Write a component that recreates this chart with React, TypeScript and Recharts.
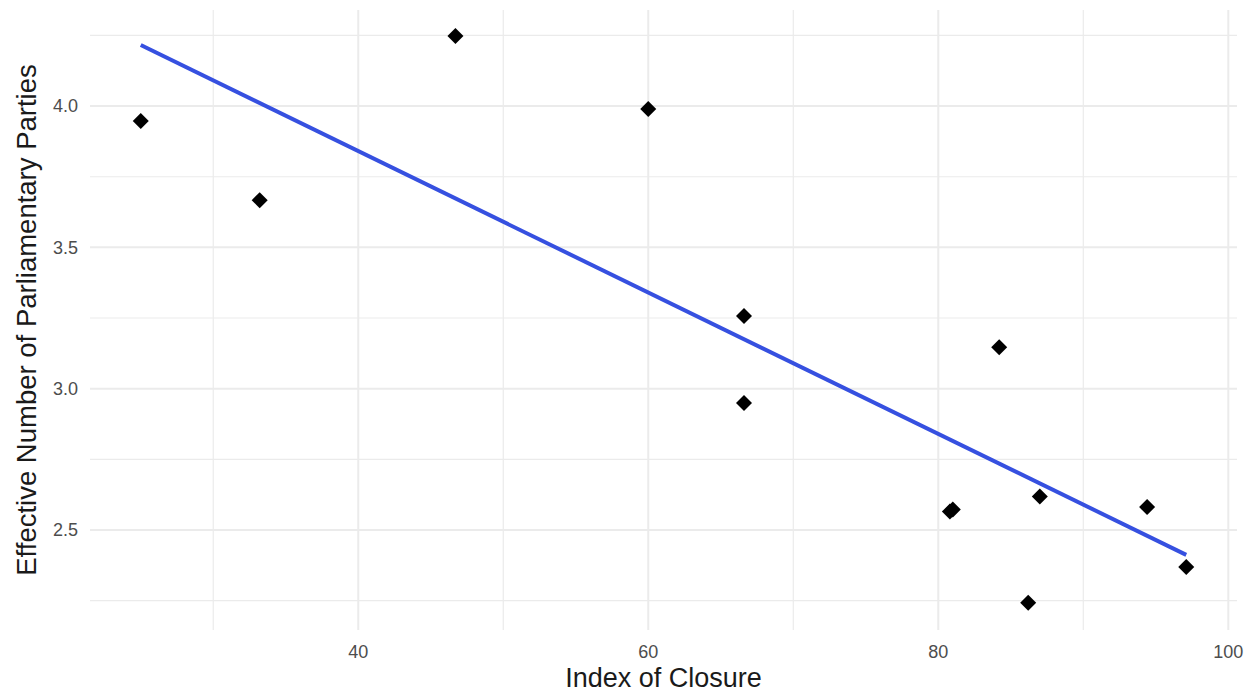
import React from 'react';
import { ScatterChart, Scatter, XAxis, YAxis, ReferenceLine } from 'recharts';

// Index of closure vs. effective number of parliamentary parties
const closure = [25.0, 33.2, 46.7, 60.0, 66.6, 66.6, 84.2, 80.8, 81.0, 87.0, 86.2, 94.4, 97.1];
const enpp = [3.947, 3.667, 4.248, 3.99, 3.257, 2.949, 3.147, 2.565, 2.572, 2.618, 2.242, 2.581, 2.369];

// Fitted linear trend endpoints
const fitX = [25.0, 97.1];
const fitY = [4.216, 2.412];

const xMajor = [40, 60, 80, 100];
const xMinor = [30, 50, 70, 90];
const yMajor = [2.5, 3.0, 3.5, 4.0];
const yMinor = [2.25, 2.75, 3.25, 3.75, 4.25];

const points = closure.map((x, i) => ({ x, y: enpp[i] }));
const fit = fitX.map((x, i) => ({ x, y: fitY[i] }));

const FONT = '"Liberation Sans", Arial, Helvetica, sans-serif';
const GRID = '#ebebeb';

const Diamond = (props: any) => {
  const { cx, cy } = props;
  const r = 8;
  return (
    <polygon
      points={`${cx},${cy - r} ${cx + r},${cy} ${cx},${cy + r} ${cx - r},${cy}`}
      fill="#000000"
    />
  );
};

const NoShape = () => null;

export default function App() {
  return (
    <div style={{ position: 'absolute', left: 0, top: 0, background: '#ffffff' }}>
      <ScatterChart
        width={1252}
        height={694}
        margin={{ top: 10, right: 15, bottom: 0, left: 0 }}
      >
        {xMinor.map((v) => (
          <ReferenceLine key={`xm${v}`} x={v} stroke={GRID} strokeWidth={1.2} />
        ))}
        {yMinor.map((v) => (
          <ReferenceLine key={`ym${v}`} y={v} stroke={GRID} strokeWidth={1.2} />
        ))}
        {xMajor.map((v) => (
          <ReferenceLine key={`xM${v}`} x={v} stroke={GRID} strokeWidth={2} />
        ))}
        {yMajor.map((v) => (
          <ReferenceLine key={`yM${v}`} y={v} stroke={GRID} strokeWidth={2} />
        ))}
        <XAxis
          type="number"
          dataKey="x"
          domain={[21.5, 100.6]}
          ticks={xMajor}
          allowDataOverflow
          axisLine={false}
          tickLine={false}
          height={64}
          tick={{ fill: '#4d4d4d', fontSize: 18, fontFamily: FONT }}
          tickMargin={9}
          label={{
            value: 'Index of Closure',
            position: 'insideBottom',
            offset: 7,
            fill: '#1a1a1a',
            fontSize: 27,
            fontFamily: FONT,
          }}
        />
        <YAxis
          type="number"
          dataKey="y"
          domain={[2.146, 4.34]}
          ticks={yMajor}
          allowDataOverflow
          axisLine={false}
          tickLine={false}
          width={90}
          tick={{ fill: '#4d4d4d', fontSize: 18, fontFamily: FONT }}
          tickFormatter={(v: number) => v.toFixed(1)}
          tickMargin={6}
          label={{
            value: 'Effective Number of Parliamentary Parties',
            angle: -90,
            position: 'insideLeft',
            offset: 26,
            style: { textAnchor: 'middle' },
            fill: '#1a1a1a',
            fontSize: 27.5,
            fontFamily: FONT,
          }}
        />
        <Scatter
          data={fit}
          line={{ stroke: '#3650e0', strokeWidth: 4 }}
          shape={NoShape}
          isAnimationActive={false}
        />
        <Scatter data={points} shape={Diamond} isAnimationActive={false} />
      </ScatterChart>
    </div>
  );
}
